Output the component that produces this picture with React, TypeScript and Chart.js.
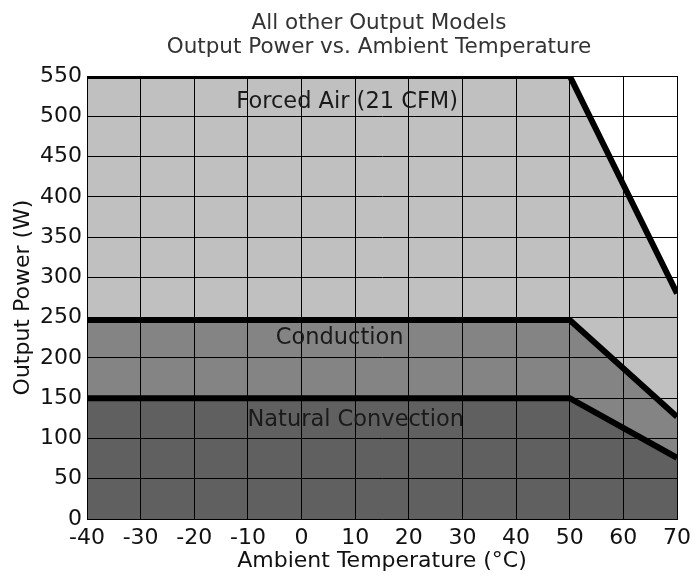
import React, { useEffect, useRef } from "react";
import { Chart, registerables } from "chart.js";

Chart.register(...registerables);

const temps = [-40, 50, 70];
const forcedAir = [550, 550, 280];
const conduction = [247, 247, 127];
const naturalConv = [150, 150, 76];

const seriesNames = ["Forced Air (21 CFM)", "Conduction", "Natural Convection"];
const seriesFills = ["#c0c0c0", "#848484", "#606060"];

const titleLines = ["All other Output Models", "Output Power vs. Ambient Temperature"];
const xTitle = "Ambient Temperature (°C)";
const yTitle = "Output Power (W)";

// annotation anchors (data coordinates: temperature, watts)
const labelTemp = [8.5, 7.1, 10.1];
const labelWatts = [510, 217, 115];

const FONT = "'DejaVu Sans', Verdana, sans-serif";

export default function App() {
  const ref = useRef<HTMLCanvasElement | null>(null);

  useEffect(() => {
    if (!ref.current) return;
    const mk = (ys: number[]) => temps.map((x, i) => ({ x, y: ys[i] }));

    const overlay = {
      id: "overlay",
      afterDraw(chart: any) {
        const { ctx, chartArea, scales } = chart;
        ctx.save();
        ctx.fillStyle = "#333";
        ctx.font = `21.5px ${FONT}`;
        ctx.textAlign = "center";
        ctx.textBaseline = "alphabetic";
        const cx = (chartArea.left + chartArea.right) / 2 - 3;
        ctx.fillText(titleLines[0], cx, 29);
        ctx.fillText(titleLines[1], cx, 53);
        ctx.fillStyle = "#1a1a1a";
        ctx.font = `22.5px ${FONT}`;
        seriesNames.forEach((name, i) => {
          ctx.fillText(name, scales.x.getPixelForValue(labelTemp[i]), scales.y.getPixelForValue(labelWatts[i]));
        });
        ctx.restore();
      },
    };

    const line = (label: string, ys: number[], fill: any, color: string) => ({
      label,
      data: mk(ys),
      borderColor: "#000",
      borderWidth: 6,
      borderJoinStyle: "miter",
      backgroundColor: color,
      fill,
      tension: 0,
      pointRadius: 0,
    });

    const chart = new Chart(ref.current, {
      type: "line",
      data: {
        datasets: [
          line(seriesNames[0], forcedAir, "+1", seriesFills[0]),
          line(seriesNames[1], conduction, "+1", seriesFills[1]),
          line(seriesNames[2], naturalConv, "origin", seriesFills[2]),
        ] as any,
      },
      options: {
        animation: false,
        responsive: false,
        layout: { padding: { top: 76, right: 17, left: 0, bottom: 0 } },
        plugins: {
          legend: { display: false },
          tooltip: { enabled: false },
          filler: { drawTime: "beforeDatasetsDraw" },
        } as any,
        scales: {
          x: {
            type: "linear",
            min: -40,
            max: 70,
            afterFit: (s: any) => {
              s.height = 60;
            },
            ticks: { stepSize: 10, color: "#111", padding: 6, font: { family: FONT, size: 22 }, z: 2 },
            grid: { color: "#000", lineWidth: 1, drawTicks: false, z: 1 },
            border: { display: true, color: "#000", width: 1, z: 1 },
            title: { display: true, text: xTitle, color: "#111", padding: { top: 0, bottom: 5 }, font: { family: FONT, size: 22 } },
          },
          y: {
            type: "linear",
            min: 0,
            max: 550,
            afterFit: (s: any) => {
              s.width = 87;
            },
            ticks: { stepSize: 50, color: "#111", padding: 5, font: { family: FONT, size: 22 }, z: 2 },
            grid: { color: "#000", lineWidth: 1, drawTicks: false, z: 1 },
            border: { display: true, color: "#000", width: 1, z: 1 },
            title: { display: true, text: yTitle, color: "#111", padding: { top: 10, bottom: 0 }, font: { family: FONT, size: 22 } },
          },
        },
      } as any,
      plugins: [overlay],
    });
    return () => chart.destroy();
  }, []);

  return (
    <div style={{ position: "absolute", left: 0, top: 0, width: 697, height: 579, background: "#fff" }}>
      <canvas ref={ref} width={697} height={579} style={{ display: "block" }} />
    </div>
  );
}
